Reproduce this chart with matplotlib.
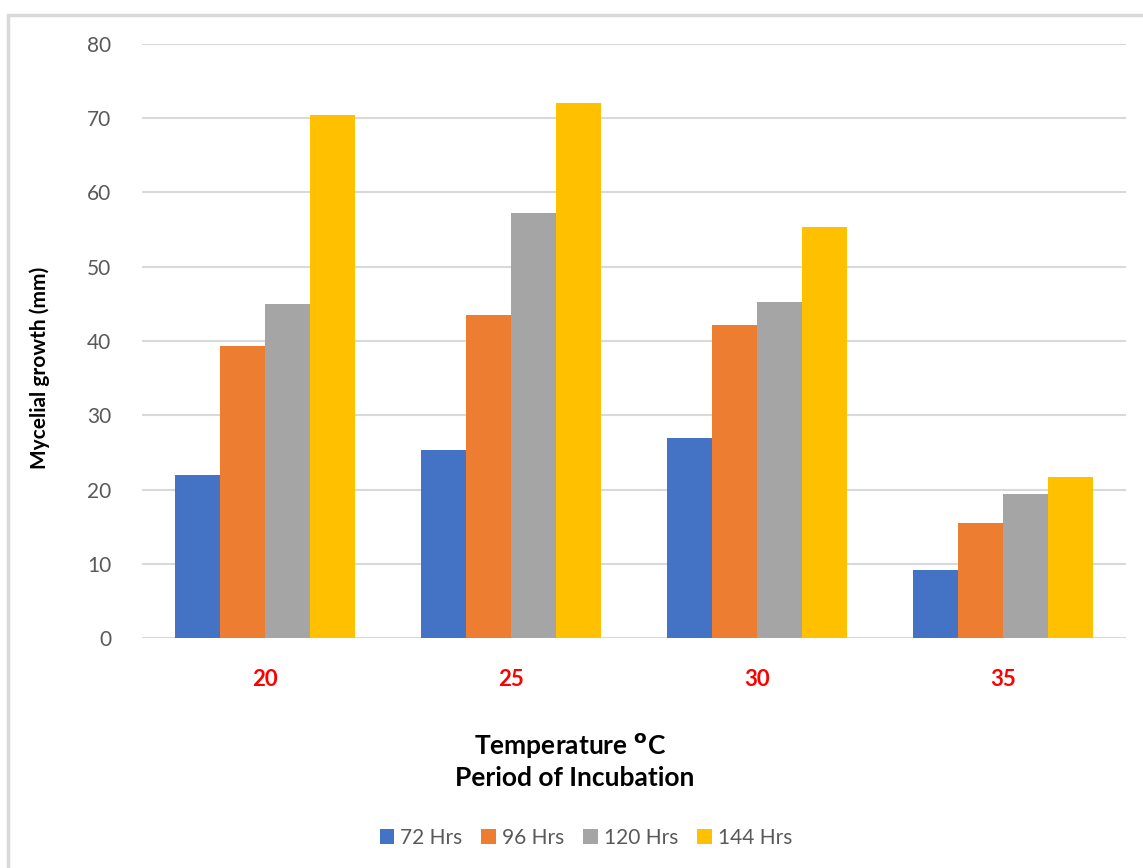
import numpy as np
import matplotlib
matplotlib.use('Agg')
import matplotlib.pyplot as plt
from matplotlib.patches import Rectangle

temps = ['20', '25', '30', '35']
series = ['72 Hrs', '96 Hrs', '120 Hrs', '144 Hrs']
h72 = [22.0, 25.3, 26.9, 9.2]
h96 = [39.3, 43.5, 42.1, 15.5]
h120 = [45.0, 57.2, 45.3, 19.4]
h144 = [70.5, 72.1, 55.3, 21.7]
colors = ['#4472C4', '#ED7D31', '#A5A5A5', '#FFC000']

plt.rcParams['font.family'] = ['Lato', 'DejaVu Sans']

W, H = 1143, 868
fig = plt.figure(figsize=(W / 100, H / 100), dpi=100)
ax = fig.add_axes([142 / W, 1 - 638 / H, (1126 - 142) / W, (638 - 44) / H])

# outer chart border (only top/left show in the crop)
fig.patches.append(Rectangle((8 / W, -0.05), 1.2, 1 - 15 / H + 0.05, transform=fig.transFigure,
                             fill=False, edgecolor='#D9D9D9', linewidth=2.5))

x = np.arange(len(temps))
bw = 0.183
data = [h72, h96, h120, h144]
for i, (vals, c, name) in enumerate(zip(data, colors, series)):
    ax.bar(x + (i - 1.5) * bw, vals, bw, color=c, label=name, zorder=3)

ax.set_xlim(-0.5, 3.5)
ax.set_ylim(0, 80)
ax.set_yticks(range(0, 81, 10))
ax.grid(axis='y', color='#D9D9D9', linewidth=1.5, zorder=0)
for s in ax.spines.values():
    s.set_visible(False)
ax.tick_params(axis='both', length=0)
ax.tick_params(axis='y', labelsize=15, labelcolor='#595959', pad=22)
ax.set_xticks(x)
ax.set_xticklabels(temps, fontsize=16, fontweight='bold', color='red')
ax.tick_params(axis='x', pad=22)

ax.set_ylabel('Mycelial growth (mm)', fontsize=15, fontweight='bold')
ax.yaxis.set_label_coords(-0.093, 0.455)
fig.text(570 / W, 1 - 745 / H, 'Temperature $\\mathbf{^o}$C', ha='center', va='center',
         fontsize=19, fontweight='bold')
fig.text(575 / W, 1 - 778 / H, 'Period of Incubation', ha='center', va='center',
         fontsize=19, fontweight='bold')

leg = fig.legend(loc='center', bbox_to_anchor=(586 / W, 1 - 838 / H), ncol=4, frameon=False,
                 fontsize=15, handlelength=0.7, handleheight=0.7, columnspacing=0.9,
                 handletextpad=0.3)
for t in leg.get_texts():
    t.set_color('#595959')

fig.savefig('out.png', dpi=100)
